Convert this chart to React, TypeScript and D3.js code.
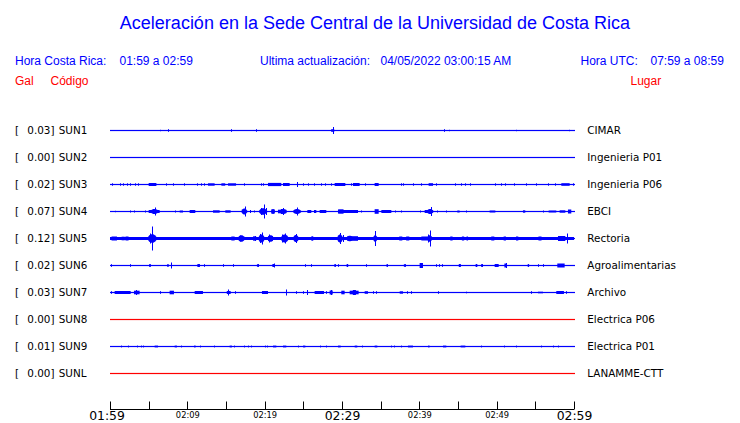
import React from "react";
import * as d3 from "d3";

// ---------- data ----------
const stations = ["SUN1", "SUN2", "SUN3", "SUN4", "SUN5", "SUN6", "SUN7", "SUN8", "SUN9", "SUNL"];
const places = ["CIMAR", "Ingenieria P01", "Ingenieria P06", "EBCI", "Rectoria", "Agroalimentarias", "Archivo", "Electrica P06", "Electrica P01", "LANAMME-CTT"];
const peakGal = ["0.03", "0.00", "0.02", "0.07", "0.12", "0.02", "0.03", "0.00", "0.01", "0.00"];
const online = [true, true, true, true, true, true, true, false, true, false];

// time axis (minutes after 01:59)
const tickMinutes = [0, 5, 10, 15, 20, 25, 30, 35, 40, 45, 50, 55, 60];
const tickLabels = ["01:59", "", "02:09", "", "02:19", "", "02:29", "", "02:39", "", "02:49", "", "02:59"];
const majorLabels = ["01:59", "02:29", "02:59"];

// spikes: [minute, amplitude]
const spikes: number[][][] = [
  [[6.5, 0.7], [7.5, 1.3], [15.6, 1.3], [18.9, 1.3], [28.8, 3.5], [43.2, 1.3], [43.9, 0.7], [52.5, 0.7], [59.4, 0.7]],
  [],
  [[0.26, 1.2], [1.25, 1.2], [1.68, 1.2], [2.24, 1.2], [2.54, 1.2], [3.27, 1.2], [3.62, 1.2], [7.28, 1.2], [8.15, 1.2], [9.57, 1.2], [11.29, 1.2], [11.72, 1.2], [12.15, 1.2], [17.28, 1.2], [19.48, 1.2], [19.78, 1.2], [24.2, 2.5], [24.96, 1.2], [25.6, 1.2], [26.38, 1.2], [27.33, 1.2], [27.76, 1.2], [28.53, 1.2], [31.12, 1.2], [33.0, 1.2], [37.58, 1.2], [37.89, 1.2], [39.18, 1.2], [40.26, 1.2], [42.2, 1.2], [44.57, 1.2], [45.34, 1.2], [45.95, 1.2], [46.5, 1.2], [49.74, 1.2], [50.6, 1.2], [51.03, 1.2], [52.24, 1.2], [53.84, 1.2], [55.13, 1.2], [56.64, 1.2], [57.5, 1.2], [59.87, 1.2]],
  [[0.69, 0.7], [2.54, 1], [3.1, 1], [4.48, 1], [5.6, 2.5], [5.77, 4], [8.36, 1], [17.2, 2.5], [17.41, 5], [18.06, 1.5], [18.62, 1], [19.55, 3.5], [19.91, 7], [20.2, 3.5], [22.1, 2.5], [22.37, 3.5], [24.0, 2.5], [24.22, 4], [32.41, 1], [36.9, 1], [37.67, 1], [40.04, 1], [41.47, 4.5], [42.33, 1], [43.49, 1], [46.08, 1], [55.99, 1]],
  [[5.2, 5], [5.47, 12], [16.8, 3], [18.71, 2.5], [19.4, 4.5], [19.65, 6], [20.6, 4], [22.3, 4], [22.58, 5], [24.09, 4.5], [26.12, 2], [29.7, 5.5], [30.1, 3.5], [34.22, 7.5], [41.1, 4], [41.33, 8], [59.05, 5]],
  [[0.08, 1.3], [2.63, 1.3], [5.0, 1.3], [5.21, 1.3], [7.93, 3], [11.46, 1.3], [12.11, 1.3], [14.61, 1.3], [15.9, 1.3], [19.14, 1.3], [21.16, 2], [25.17, 1.3], [25.95, 1.3], [29.05, 1.3], [29.48, 1.3], [30.69, 1.3], [33.15, 1.3], [35.82, 1.3], [38.1, 1.3], [42.11, 1.3], [42.54, 1.3], [42.97, 1.3], [45.21, 1.3], [48.1, 1.3], [51.16, 2.5], [54.05, 1.3], [55.34, 1.3], [55.99, 1.3]],
  [[0.08, 1.3], [3.4, 2.5], [6.51, 1.3], [15.26, 3], [16.12, 1.3], [22.8, 3], [24.09, 1.3], [24.96, 1.3], [25.47, 2.5], [27.97, 1.3], [28.62, 2.5], [34.01, 1.3], [34.44, 1.3], [38.45, 1.3], [38.96, 1.3], [42.41, 1.3], [46.08, 0.8], [54.4, 1.3], [59.0, 1.3]],
  [],
  [[1.46, 0.9], [2.33, 0.9], [3.53, 0.9], [4.05, 0.9], [4.27, 0.9], [9.14, 0.9], [11.59, 0.9], [13.45, 0.9], [16.03, 0.9], [17.33, 0.9], [17.84, 0.9], [18.19, 0.9], [19.99, 0.9], [20.34, 0.9], [24.31, 0.9], [27.11, 0.9], [27.97, 0.9], [32.58, 0.9], [36.29, 0.9], [36.72, 0.9], [37.67, 0.9], [48.02, 0.9], [50.95, 0.9], [52.54, 0.9], [55.69, 0.9], [57.28, 0.9], [57.93, 0.9]],
  [],
];

// blocks of sustained motion: [start, end, amplitude]
const blocks: number[][][] = [
  [[28.6, 29.0, 1.3]],
  [],
  [[5.0, 6.0, 1.5], [12.67, 13.53, 1.2], [14.4, 14.9, 1.2], [15.26, 16.3, 1.2], [20.43, 22.15, 1.6], [22.37, 23.23, 1.5], [29.05, 30.43, 1.5], [31.42, 32.28, 1.5], [34.22, 34.74, 1.5], [41.2, 41.77, 1.3], [58.36, 59.44, 1.3]],
  [[5.0, 6.42, 1.5], [9.01, 9.44, 1], [10.3, 11.03, 1.5], [13.32, 14.18, 1.2], [14.91, 15.6, 1.2], [20.86, 21.29, 2.2], [21.72, 22.8, 1.8], [25.52, 26.03, 1.5], [26.38, 26.68, 1.5], [27.11, 27.97, 1.5], [29.48, 32.07, 1.5], [29.5, 30.2, 2.2], [34.22, 34.74, 2.3], [35.09, 36.38, 1.5], [40.69, 41.77, 1.5], [44.91, 45.21, 1], [49.09, 49.83, 1], [53.4, 53.7, 1.2], [56.72, 57.71, 1], [58.14, 58.88, 1.2], [59.22, 59.65, 2]],
  [[0, 60, 1.5], [0.2, 0.9, 2], [1.5, 1.9, 1.8], [2.0, 2.4, 2], [15.69, 16.12, 2], [18.5, 18.9, 2.2], [20.43, 21.08, 2.6], [26.0, 26.3, 2], [30.69, 32.07, 2.3], [37.4, 37.8, 2], [38.3, 38.7, 2], [40.26, 41.12, 2], [44.0, 44.3, 2], [45.5, 45.8, 2], [46.1, 46.3, 2], [49.3, 49.7, 2], [50.9, 51.2, 2], [52.5, 52.8, 2], [55.4, 55.8, 2], [57.93, 58.88, 2.5]],
  [[7.41, 7.58, 1.5], [11.3, 11.6, 1.5], [19.0, 19.25, 1.3], [21.0, 21.3, 1.5], [29.0, 29.15, 1.3], [30.6, 30.8, 1.5], [35.75, 35.9, 1.3], [38.0, 38.2, 1.3], [40.04, 40.47, 2.5], [45.1, 45.3, 1.5], [47.28, 47.5, 1.5], [48.0, 48.2, 1.5], [49.74, 50.26, 1.5], [51.0, 51.3, 2], [54.0, 54.2, 1.2], [57.84, 58.79, 2]],
  [[0.6, 2.67, 1.5], [3.1, 3.83, 1.8], [7.71, 8.27, 1.8], [10.95, 12.02, 1.5], [15.1, 15.6, 1.5], [19.65, 20.43, 1.5], [26.46, 27.67, 1.5], [28.4, 28.8, 2], [29.91, 30.34, 1.8], [30.99, 32.15, 1.8], [31.4, 31.8, 2.5], [32.93, 33.36, 1.3], [37.46, 37.89, 1.2], [55.34, 55.99, 0.8], [57.71, 58.7, 1.5]],
  [],
  [[5.77, 6.21, 0.9], [8.36, 8.66, 0.9], [10.86, 11.08, 0.9], [15.47, 15.77, 0.9], [21.08, 21.51, 0.9], [22.37, 22.8, 0.9], [24.96, 25.26, 0.9], [29.48, 29.83, 0.9], [31.64, 31.98, 0.9], [34.22, 34.57, 0.9], [38.53, 39.18, 0.9], [41.12, 41.33, 0.9], [43.06, 43.49, 0.9], [45.34, 45.95, 0.9]],
  [],
];

// bursts (spindle-shaped wave packets): [centre, half-duration, amplitude]
const bursts: number[][][] = [
  [],
  [],
  [],
  [[5.77, 0.55, 2.6], [17.38, 0.4, 3], [19.8, 0.55, 3.3], [21.1, 0.25, 2.2], [22.4, 0.5, 2.6], [24.2, 0.55, 2.6], [41.4, 0.45, 2.6]],
  [[5.47, 0.65, 4.2], [17.0, 0.5, 3.2], [19.6, 0.45, 4], [20.8, 0.35, 3.2], [22.6, 0.55, 4], [24.05, 0.4, 3.6], [29.75, 0.4, 4], [31.0, 0.5, 2.8], [34.3, 0.3, 3.2], [41.35, 0.35, 3.2]],
  [],
  [],
  [],
  [],
  [],
];

// ---------- layout ----------
const W = 740;
const H = 423;
const plotLeft = 110;
const plotRight = 574;
const firstRow = 130.5;
const rowGap = 27;
const axisY = 409.5;
const BLUE = "#0000ff";
const RED = "#ff0000";
const HEAD = "'Liberation Sans', Arial, sans-serif";
const MONO = "'DejaVu Sans', sans-serif";

export default function App() {
  const x = d3.scaleLinear().domain([0, 60]).range([plotLeft, plotRight]);
  const rowY = d3.scaleLinear().domain([0, 1]).range([firstRow, firstRow + rowGap]);
  const amp = d3.scaleLinear().domain([0, 12]).range([0, 12]);
  const spindle = d3
    .area<number[]>()
    .x((d) => d[0])
    .y0((d) => -d[1])
    .y1((d) => d[1])
    .curve(d3.curveLinear);

  const spindlePath = (b: number[]) => {
    const c = x(b[0]);
    const w = x(b[1]) - x(0);
    const a = amp(b[2]);
    return spindle([
      [c - w, 0.6],
      [c - w * 0.6, a * 0.75],
      [c - w * 0.2, a],
      [c + w * 0.2, a],
      [c + w * 0.6, a * 0.7],
      [c + w, 0.6],
    ]) as string;
  };

  return (
    <div style={{ position: "fixed", left: 0, top: 0, width: W, height: H, background: "#fff" }}>
      <svg width={W} height={H} viewBox={`0 0 ${W} ${H}`} style={{ display: "block" }}>
        <rect width={W} height={H} fill="#fff" />
        <text x={375} y={29} textAnchor="middle" fontFamily={HEAD} fontSize={18} fill={BLUE}>
          Aceleración en la Sede Central de la Universidad de Costa Rica
        </text>
        <g fontFamily={HEAD} fontSize={12} fill={BLUE}>
          <text x={15} y={65}>Hora Costa Rica:</text>
          <text x={119.5} y={65}>01:59 a 02:59</text>
          <text x={260} y={65}>Ultima actualización:</text>
          <text x={380.5} y={65}>04/05/2022 03:00:15 AM</text>
          <text x={580.5} y={65}>Hora UTC:</text>
          <text x={650.5} y={65}>07:59 a 08:59</text>
        </g>
        <g fontFamily={HEAD} fontSize={12} fill={RED}>
          <text x={15} y={85}>Gal</text>
          <text x={50.5} y={85}>Código</text>
          <text x={630.5} y={85}>Lugar</text>
        </g>

        {stations.map((s, i) => {
          const cy = rowY(i);
          const color = online[i] ? BLUE : RED;
          return (
            <g key={s}>
              <g fontFamily={MONO} fontSize={10.4} fill="#000">
                <text x={15} y={cy + 3.5}>[</text>
                <text x={54.5} y={cy + 3.5} textAnchor="end">{peakGal[i] + "]"}</text>
                <text x={58.7} y={cy + 3.5}>{s}</text>
                <text x={587.3} y={cy + 3.5}>{places[i]}</text>
              </g>
              <rect x={x(0)} y={cy - 0.6} width={x(60) - x(0) + 1} height={1.2} fill={color} />
              {blocks[i].map((b, k) => (
                <rect key={"b" + k} x={x(b[0])} y={cy - amp(b[2])} width={Math.max(1, x(b[1]) - x(b[0]))} height={2 * amp(b[2])} fill={color} />
              ))}
              <g transform={`translate(0,${cy})`}>
                {bursts[i].map((b, k) => (
                  <path key={"e" + k} d={spindlePath(b)} fill={color} />
                ))}
              </g>
              {spikes[i].map((p, k) => (
                <rect key={"s" + k} x={Math.round(x(p[0]))} y={cy - amp(p[1])} width={1} height={2 * amp(p[1])} fill={color} />
              ))}
            </g>
          );
        })}

        <g>
          <line x1={x(0)} x2={x(60)} y1={axisY} y2={axisY} stroke="#000" strokeWidth={1} />
          {tickMinutes.map((m, k) => (
            <line key={k} x1={Math.round(x(m)) + 0.5} x2={Math.round(x(m)) + 0.5} y1={axisY} y2={axisY - 8} stroke="#000" strokeWidth={1} />
          ))}
          {tickMinutes.map((m, k) => {
            const lab = tickLabels[k];
            if (!lab) return null;
            const major = majorLabels.includes(lab);
            return (
              <text key={"l" + k} x={x(m) + (k === 0 ? -3 : 0.5)} y={major ? 420 : 417.5} textAnchor="middle" fontFamily={MONO} fontSize={major ? 12.4 : 8.3} fill="#000">
                {lab}
              </text>
            );
          })}
        </g>
      </svg>
    </div>
  );
}
